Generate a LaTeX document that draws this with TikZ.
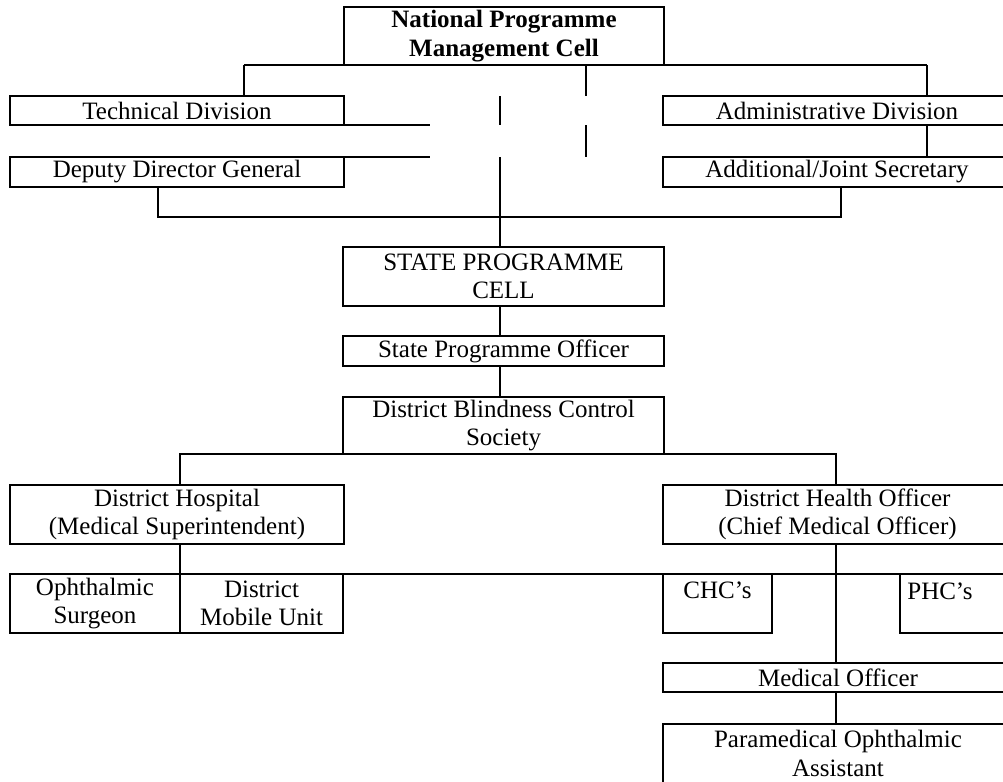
\documentclass[tikz,border=0pt]{standalone}
\usepackage{fontspec}
\setmainfont{Liberation Serif}
\newcommand\obox[6]{\node[box, minimum width={(#4-#2)*0.5pt}, minimum height={(#5-#3)*0.5pt}] (#1) at (#2,#3) {#6};}
\begin{document}
\begin{tikzpicture}[x=0.5pt,y=-0.5pt, line width=1.1pt,
  box/.style={draw, inner sep=0pt, outer sep=0pt, anchor=north west, align=center, font=\fontsize{12.5}{14.3}\selectfont},
  lbl/.style={inner sep=0pt, anchor=base, font=\fontsize{12.5}{14.3}\selectfont}]
\useasboundingbox (0,0) rectangle (1003,782);
\clip (0,0) rectangle (1003,782);
% boxes
\obox{npmc}{344}{7}{664}{65}{\bfseries National Programme\\\bfseries Management Cell}
\obox{tech}{10}{96}{344}{125}{Technical Division}
\obox{admin}{663}{96}{1011}{125}{Administrative Division}
\obox{ddg}{10}{157}{344}{187}{Deputy Director General}
\obox{ajs}{663}{157}{1011}{187}{Additional/Joint Secretary}
\obox{spc}{343}{247}{664}{306}{STATE PROGRAMME\\CELL}
\obox{spo}{343}{336}{664}{366}{State Programme Officer}
\obox{dbcs}{343}{397}{664}{454}{District Blindness Control\\Society}
\obox{dh}{10}{485}{344}{544}{District Hospital\\(Medical Superintendent)}
\obox{dho}{663}{485}{1012}{544}{District Health Officer\\(Chief Medical Officer)}
\obox{os}{10}{574}{180}{633}{Ophthalmic\\Surgeon}
\obox{dmu}{180}{574}{343}{633}{District\\Mobile Unit}
\obox{chc}{663}{574}{772}{633}{}
\obox{phc}{900}{574}{1012}{633}{}
\node[lbl] (chct) at (717.5,598) {CHC’s};
\node[lbl] (phct) at (940,599) {PHC’s};
\obox{mo}{663}{663}{1013}{692}{Medical Officer}
\obox{paa}{663}{724}{1013}{783}{Paramedical Ophthalmic\\Assistant}
% helper coordinates
\coordinate (tA) at (244,0);
\coordinate (tB) at (927,0);
\coordinate (ext) at (430,0);
\coordinate (tr) at (500,0);
\coordinate (tr2) at (586,0);
\coordinate (dl) at (158,217);
\coordinate (dr) at (841,217);
\coordinate (bl) at (180,0);
\coordinate (br) at (836,0);
\coordinate (rend) at (1010,0);
% connectors
\draw (tA |- npmc.south) -- (tB |- npmc.south);
\draw (tA |- npmc.south) -- (tA |- tech.north);
\draw (tB |- npmc.south) -- (tB |- admin.north);
\draw (tB |- admin.south) -- (tB |- ajs.north);
\draw (tech.south east) -- (ext |- tech.south);
\draw (ddg.north east) -- (ext |- ddg.north);
\draw (tr |- tech.north) -- (tr |- tech.south);
\draw (tr |- ddg.north) -- (tr |- spc.north);
\draw (tr2 |- npmc.south) -- (tr2 |- admin.north);
\draw (tr2 |- admin.south) -- (tr2 |- ajs.north);
\draw (dl |- ddg.south) -- (dl) -- (dr) -- (dr |- ajs.south);
\draw (tr |- spc.south) -- (tr |- spo.north);
\draw (tr |- spo.south) -- (tr |- dbcs.north);
\draw (bl |- dh.north) -- (bl |- dbcs.south) -- (br |- dbcs.south) -- (br |- dho.north);
\draw (bl |- dh.south) -- (bl |- os.north);
\draw (os.north west) -- (rend |- os.north);
\draw (br |- dho.south) -- (br |- mo.north);
\draw (br |- mo.south) -- (br |- paa.north);
\end{tikzpicture}
\end{document}
